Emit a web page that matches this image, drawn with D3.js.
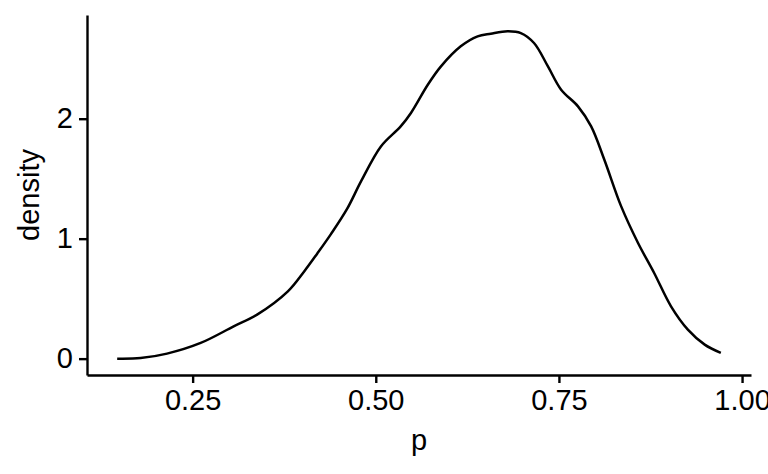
<!DOCTYPE html>
<html>
<head>
<meta charset="utf-8">
<script src="https://cdn.jsdelivr.net/npm/d3@7"></script>
<style>
  body { margin: 0; background: #fff; }
  text { font-family: "Liberation Sans", Arial, sans-serif; fill: #000; }
</style>
</head>
<body>
<script>
// density estimate of p
var pValues = [0.147, 0.179, 0.215, 0.261, 0.306, 0.338, 0.380, 0.402, 0.420,
               0.439, 0.461, 0.480, 0.507, 0.534, 0.548, 0.571, 0.589, 0.616, 0.639,
               0.657, 0.680, 0.698, 0.716, 0.735, 0.753, 0.776, 0.794, 0.812, 0.835,
               0.858, 0.880, 0.903, 0.926, 0.949, 0.971];
var densityValues = [0.000, 0.005, 0.042, 0.131, 0.269, 0.367, 0.561, 0.725, 0.875,
                     1.040, 1.250, 1.479, 1.769, 1.936, 2.048, 2.283, 2.436, 2.603, 2.686,
                     2.708, 2.728, 2.714, 2.631, 2.436, 2.242, 2.103, 1.936, 1.658, 1.269,
                     0.964, 0.714, 0.436, 0.242, 0.117, 0.048];
var xTicks = [0.25, 0.50, 0.75, 1.00];
var yTicks = [0, 1, 2];

var width = 768,
    height = 474,
    margin = {top: 15, right: 17, bottom: 99, left: 87},
    innerWidth = width - margin.left - margin.right,
    innerHeight = height - margin.top - margin.bottom;

var data = pValues.map(function (p, i) { return {p: p, d: densityValues[i]}; });

// ggplot style 5% expansion
function expand(ext) {
    var pad = (ext[1] - ext[0]) * 0.05;
    return [ext[0] - pad, ext[1] + pad];
}

var x = d3.scaleLinear()
        .domain(expand(d3.extent(pValues)))
        .range([0, innerWidth]);
var y = d3.scaleLinear()
        .domain(expand([0, d3.max(densityValues)]))
        .range([innerHeight, 0]);

var svg = d3.select("body").append("svg")
        .attr("width", width)
        .attr("height", height);

var g = svg.append("g")
        .attr("transform", "translate(" + margin.left + "," + margin.top + ")");

var line = d3.line()
        .x(function (d) { return x(d.p); })
        .y(function (d) { return y(d.d); })
        .curve(d3.curveCatmullRom.alpha(0.5));

g.append("path")
        .datum(data)
        .attr("fill", "none")
        .attr("stroke", "#000")
        .attr("stroke-width", 2.5)
        .attr("d", line);

var xAxis = g.append("g")
        .attr("transform", "translate(0," + innerHeight + ")")
        .call(d3.axisBottom(x).tickValues(xTicks).tickFormat(d3.format(".2f"))
              .tickSize(8).tickSizeOuter(0).tickPadding(6));

var yAxis = g.append("g")
        .call(d3.axisLeft(y).tickValues(yTicks).tickFormat(d3.format("d"))
              .tickSize(8).tickSizeOuter(0).tickPadding(6));

[xAxis, yAxis].forEach(function (ax) {
    ax.select(".domain").attr("stroke", "#000").attr("stroke-width", 2.4);
    ax.selectAll(".tick line").attr("stroke", "#000").attr("stroke-width", 2.4);
    ax.selectAll(".tick text")
            .attr("fill", "#000")
            .style("font-family", "'Liberation Sans', Arial, sans-serif")
            .style("font-size", "29px");
});

svg.append("text")
        .attr("x", margin.left + innerWidth / 2)
        .attr("y", 450)
        .attr("text-anchor", "middle")
        .style("font-size", "29px")
        .text("p");

svg.append("text")
        .attr("transform", "translate(39," + (margin.top + innerHeight / 2) + ") rotate(-90)")
        .attr("text-anchor", "middle")
        .style("font-size", "29px")
        .text("density");
</script>
</body>
</html>
